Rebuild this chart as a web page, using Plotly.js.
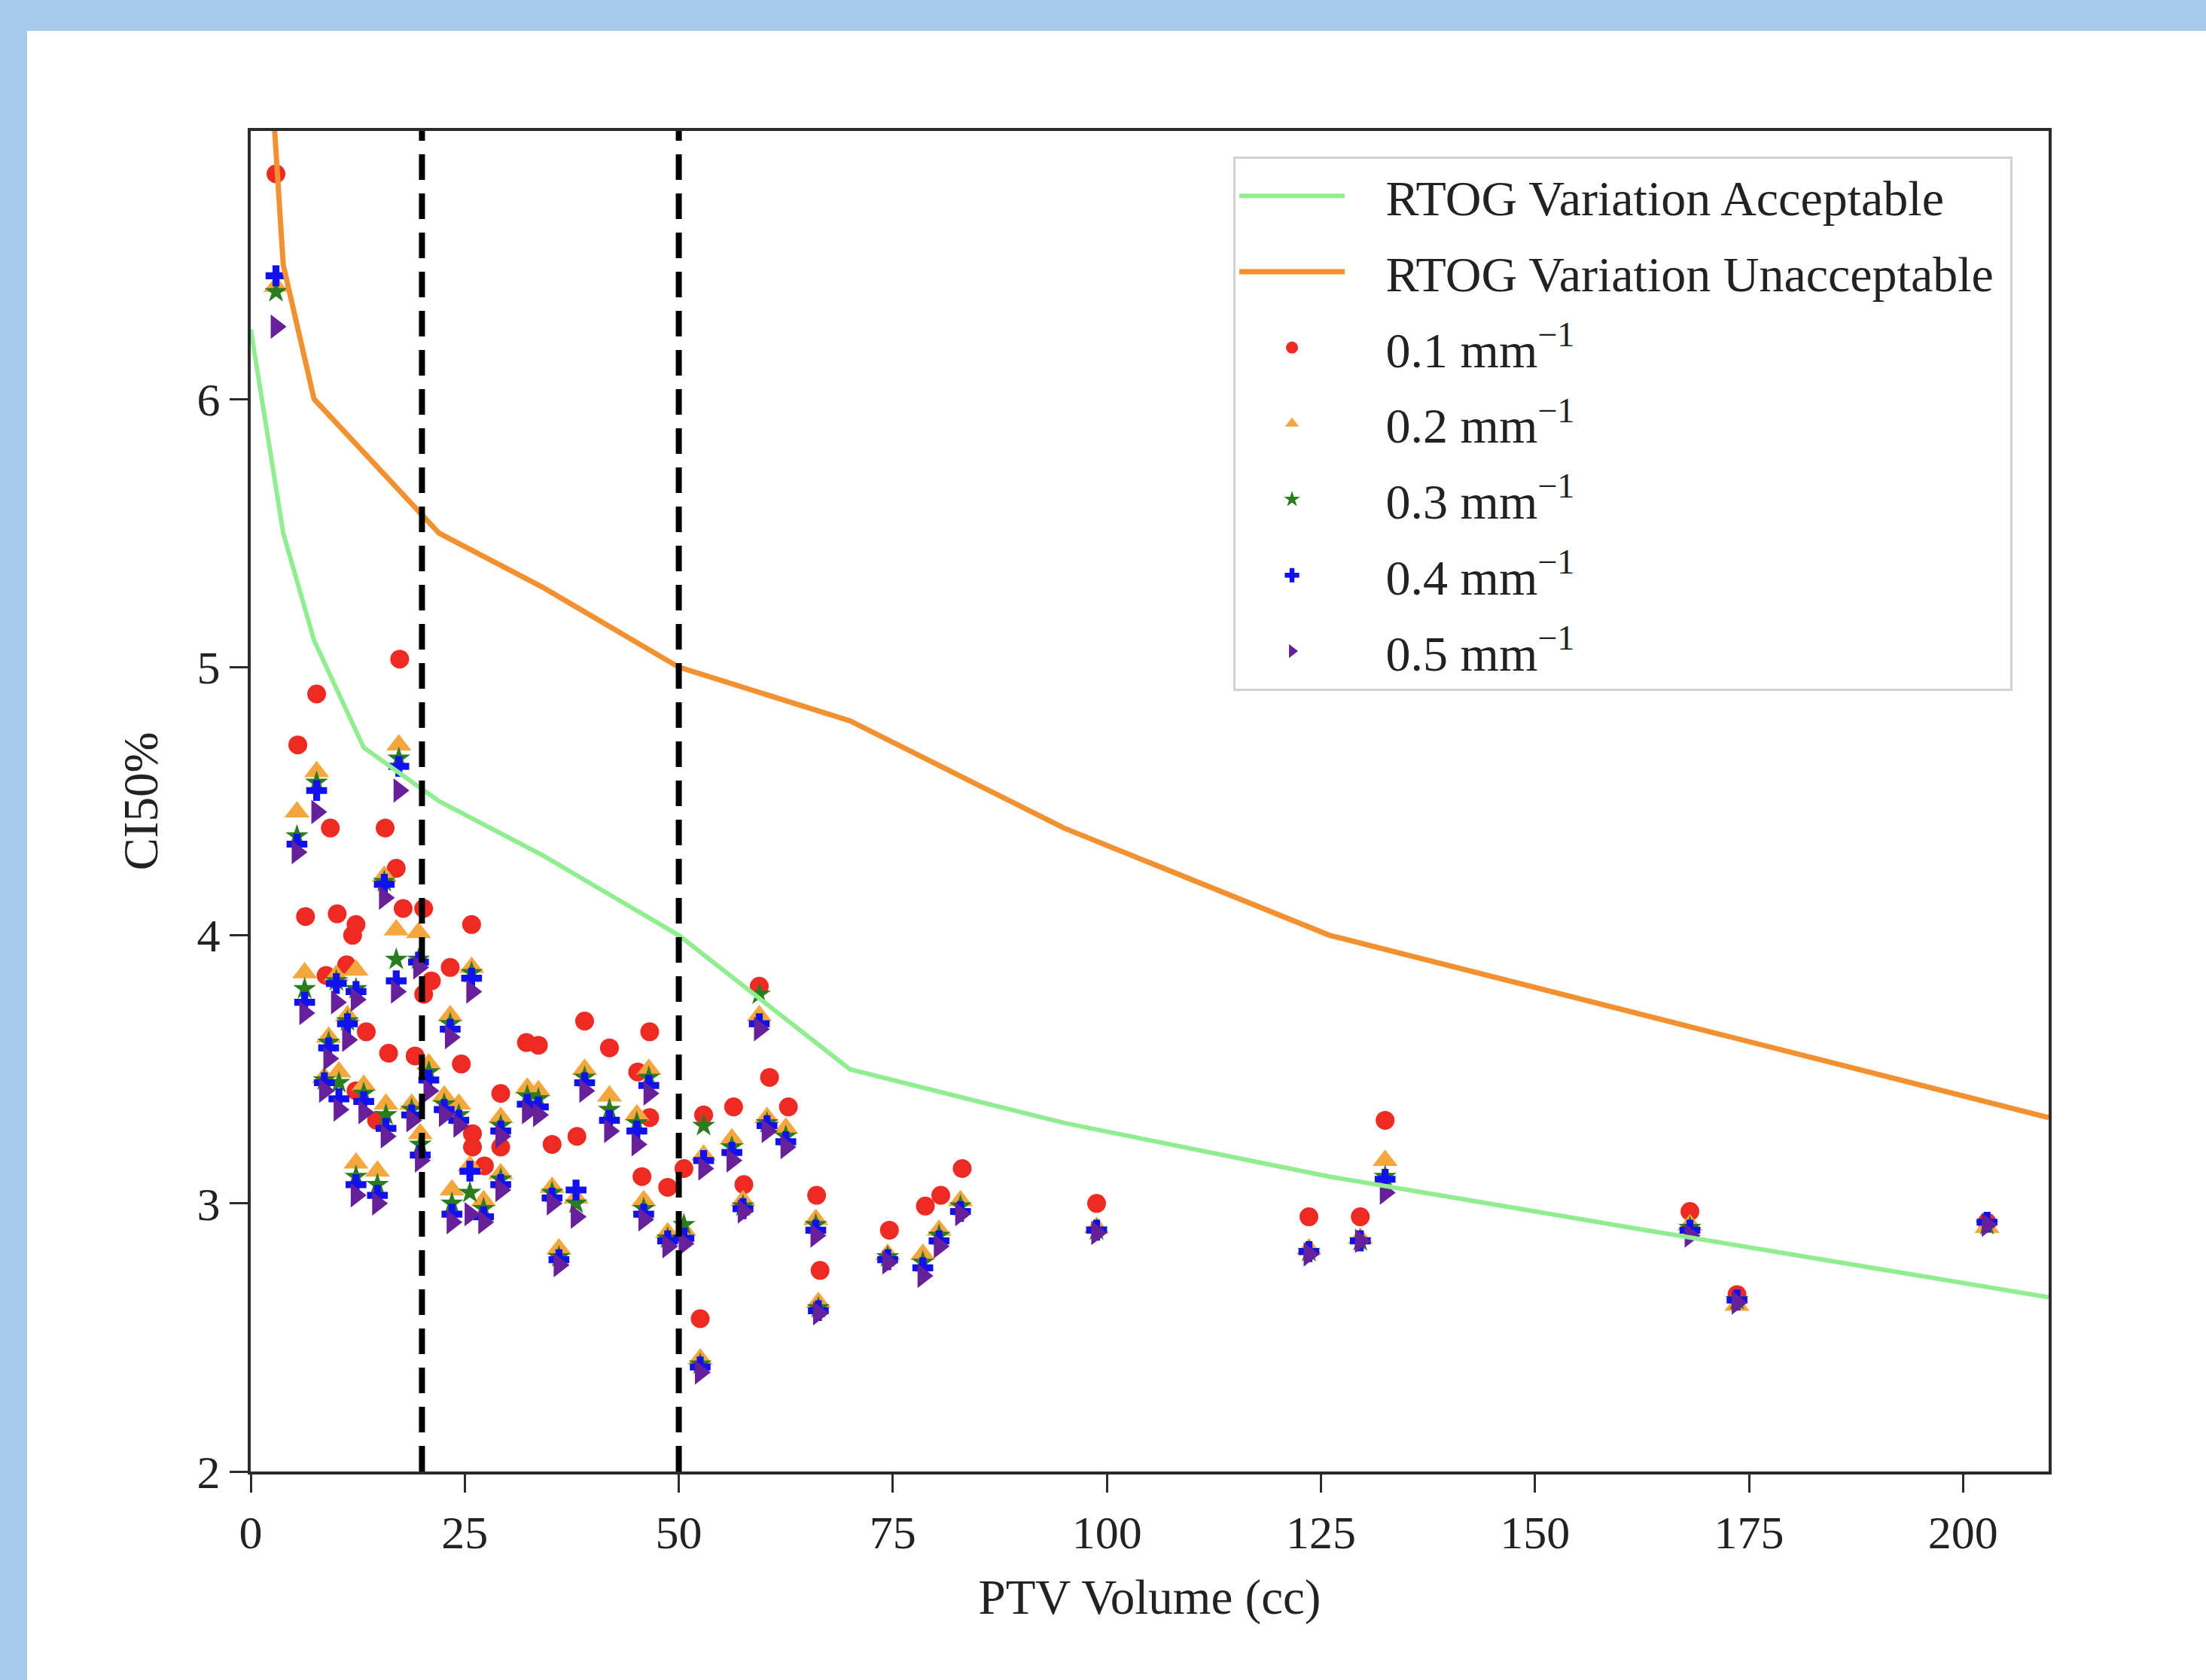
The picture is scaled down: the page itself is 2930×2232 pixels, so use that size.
<!DOCTYPE html>
<html>
<head>
<meta charset="utf-8">
<script src="https://cdn.plot.ly/plotly-3.0.1.min.js"></script>
<style>
  html, body { margin: 0; padding: 0; width: 2930px; height: 2232px; background: #a7c9eb; overflow: hidden; }
  #chart { position: absolute; left: 36px; top: 41px; width: 2894px; height: 2191px; background: #ffffff; }
</style>
</head>
<body>
<div id="chart"></div>
<script>
// RTOG 0915 reference curves
const rtogVolume       = [0, 1.8, 3.8, 7.4, 13.2, 22.0, 34.0, 50.0, 70.0, 95.0, 126.0, 163.0, 210];
const rtogAcceptable   = [6.26, 5.9, 5.5, 5.1, 4.7, 4.5, 4.3, 4.0, 3.5, 3.3, 3.1, 2.9, 2.65];
const rtogUnacceptable = [8.4, 7.5, 6.5, 6.0, 5.8, 5.5, 5.3, 5.0, 4.8, 4.4, 4.0, 3.7, 3.32];

// Volume thresholds (dashed lines)
const thresholds = [20, 50];

// 0.1 mm^-1 series
const volume01 = [2.95, 5.5, 7.7, 9.3, 6.4, 10.1, 12.3, 11.9, 8.8, 11.2, 13.5, 15.7, 17.0, 17.4, 17.8, 20.2, 16.1, 19.2, 20.2, 21.1,
                  23.3, 25.8, 24.6, 25.9, 25.9, 27.3, 29.2, 29.2, 32.2, 33.6, 35.2, 38.1, 39.0, 41.9, 45.2, 46.6, 46.6, 45.7, 48.7, 50.6,
                  52.9, 52.5, 56.4, 57.6, 59.4, 60.6, 62.8, 66.1, 66.5, 74.6, 78.8, 80.6, 83.1, 98.8, 123.6, 129.6, 132.5, 168.1, 173.6, 202.8,
                  12.3, 14.7];
const ci01 = [6.84, 4.71, 4.90, 4.40, 4.07, 4.08, 4.04, 4.00, 3.85, 3.89, 3.64, 4.40, 4.25, 5.03, 4.10, 4.10, 3.56, 3.55, 3.78, 3.83,
              3.88, 4.04, 3.52, 3.26, 3.21, 3.14, 3.41, 3.21, 3.60, 3.59, 3.22, 3.25, 3.68, 3.58, 3.49, 3.64, 3.32, 3.10, 3.06, 3.13,
              3.33, 2.57, 3.36, 3.07, 3.81, 3.47, 3.36, 3.03, 2.75, 2.90, 2.99, 3.03, 3.13, 3.00, 2.95, 2.95, 3.31, 2.97, 2.66, 2.93,
              3.42, 3.31];

// 0.2 - 0.5 mm^-1 series
const volume = [2.95, 5.4, 7.7, 17.3, 15.6, 6.3, 10.0, 12.3, 17.0, 19.6, 25.8, 11.3, 23.3, 9.1, 10.3, 8.6, 13.2, 15.8, 18.8, 20.8,
                19.8, 22.6, 24.3, 29.2, 32.3, 33.6, 39.0, 41.9, 45.1, 46.5, 12.3, 14.8, 23.5, 25.6, 27.2, 29.2, 35.2, 38.0, 36.0, 45.9,
                48.7, 50.6, 52.9, 52.5, 56.2, 57.5, 59.4, 60.3, 62.5, 66.0, 66.3, 74.4, 78.5, 80.4, 82.9, 98.8, 123.6, 129.6, 132.5, 168.1,
                173.6, 202.8];
const ci02 = [6.42, 4.46, 4.61, 4.71, 4.22, 3.86, 3.85, 3.87, 4.02, 4.01, 3.88, 3.70, 3.70, 3.62, 3.49, 3.47, 3.44, 3.37, 3.37, 3.52,
              3.26, 3.40, 3.37, 3.32, 3.43, 3.42, 3.50, 3.40, 3.33, 3.50, 3.15, 3.12, 3.05, 3.14, 3.01, 3.11, 3.06, 3.02, 2.83, 3.01,
              2.89, 2.90, 3.18, 2.42, 3.24, 3.01, 3.70, 3.32, 3.28, 2.94, 2.63, 2.81, 2.81, 2.90, 3.01, 2.91, 2.83, 2.87, 3.16, 2.92,
              2.62, 2.91];
const ci03 = [6.40, 4.37, 4.57, 4.66, 4.20, 3.80, 3.83, 3.80, 3.91, 3.91, 3.86, 3.68, 3.67, 3.60, 3.45, 3.46, 3.41, 3.33, 3.35, 3.49,
              3.22, 3.37, 3.33, 3.29, 3.40, 3.39, 3.47, 3.35, 3.30, 3.47, 3.10, 3.07, 3.00, 3.04, 2.98, 3.09, 3.04, 3.00, 2.80, 2.98,
              2.87, 2.92, 3.29, 2.40, 3.21, 2.99, 3.78, 3.30, 3.25, 2.92, 2.61, 2.80, 2.78, 2.88, 2.99, 2.90, 2.82, 2.86, 3.10, 2.91,
              2.64, 2.92];
const ci04 = [6.46, 4.34, 4.54, 4.63, 4.19, 3.75, 3.82, 3.79, 3.83, 3.90, 3.84, 3.67, 3.65, 3.58, 3.39, 3.45, 3.38, 3.28, 3.33, 3.46,
              3.18, 3.35, 3.31, 3.27, 3.37, 3.36, 3.45, 3.31, 3.27, 3.44, 3.07, 3.03, 2.96, 3.12, 2.95, 3.07, 3.02, 3.05, 2.79, 2.96,
              2.86, 2.87, 3.16, 2.39, 3.19, 2.98, 3.67, 3.29, 3.23, 2.90, 2.60, 2.79, 2.76, 2.86, 2.97, 2.90, 2.82, 2.86, 3.09, 2.90,
              2.64, 2.93];
const ci05 = [6.27, 4.31, 4.46, 4.54, 4.14, 3.71, 3.75, 3.76, 3.79, 3.88, 3.79, 3.61, 3.62, 3.54, 3.35, 3.42, 3.34, 3.25, 3.31, 3.42,
              3.16, 3.33, 3.29, 3.25, 3.34, 3.33, 3.42, 3.27, 3.22, 3.41, 3.03, 3.00, 2.93, 2.96, 2.93, 3.05, 3.00, 2.95, 2.77, 2.94,
              2.84, 2.85, 3.13, 2.37, 3.16, 2.97, 3.65, 3.27, 3.21, 2.88, 2.59, 2.78, 2.73, 2.84, 2.96, 2.89, 2.81, 2.86, 3.04, 2.88,
              2.63, 2.92];

const xTicks = [0, 25, 50, 75, 100, 125, 150, 175, 200];
const yTicks = [2, 3, 4, 5, 6];
const lineNames = ['RTOG Variation Acceptable', 'RTOG Variation Unacceptable'];
const seriesNames = ['0.1 mm<sup>−1</sup>', '0.2 mm<sup>−1</sup>', '0.3 mm<sup>−1</sup>', '0.4 mm<sup>−1</sup>', '0.5 mm<sup>−1</sup>'];

const FONT = '"Liberation Serif", "Times New Roman", serif';
const GAP = '\u00A0\u00A0\u00A0';

function scat(x, y, name, color, symbol, size, rank) {
  return {
    type: 'scatter', mode: 'markers', x: x, y: y, name: GAP + name,
    legendgroup: 'g' + rank, legendrank: rank,
    marker: { color: color, symbol: symbol, size: size, line: { width: 0 } },
    cliponaxis: true
  };
}

const traces = [
  scat(volume01, ci01, seriesNames[0], '#ee2a22', 'circle', 25, 3),
  scat(volume, ci02, seriesNames[1], '#f5a63c', 'triangle-up', 29, 4),
  scat(volume, ci03, seriesNames[2], '#2a7d1e', 'star', 23, 5),
  scat(volume, ci04, seriesNames[3], '#1010f0', 'cross', 23, 6),
  scat(volume, ci05, seriesNames[4], '#66209a', 'triangle-right', 28, 7),
  { type: 'scatter', mode: 'lines', x: rtogVolume, y: rtogAcceptable, name: GAP + lineNames[0],
    legendgroup: 'g1', legendrank: 1, line: { color: '#90ee90', width: 6 } },
  { type: 'scatter', mode: 'lines', x: rtogVolume, y: rtogUnacceptable, name: GAP + lineNames[1] + '\u00A0',
    legendgroup: 'g2', legendrank: 2, line: { color: '#f39130', width: 7 } }
];

const shapes = thresholds.map(v => ({
  type: 'line', xref: 'x', yref: 'paper', x0: v, x1: v, y0: 0, y1: 1, layer: 'above',
  line: { color: '#000000', width: 8, dash: '34px,18px' }
}));

const layout = {
  width: 2894, height: 2191,
  margin: { l: 297, r: 209, t: 133, b: 277, pad: 0 },
  paper_bgcolor: '#ffffff', plot_bgcolor: '#ffffff',
  font: { family: FONT, color: '#222222', size: 62 },
  showlegend: true,
  legend: {
    x: 0.5465, y: 0.981, xanchor: 'left', yanchor: 'top',
    bgcolor: '#ffffff', bordercolor: '#d2d2d2', borderwidth: 3,
    font: { family: FONT, size: 66, color: '#222222' },
    traceorder: 'grouped', tracegroupgap: 12, itemwidth: 140, valign: 'middle'
  },
  xaxis: {
    range: [0, 210], tickvals: xTicks, ticktext: xTicks.map(String),
    showgrid: false, zeroline: false,
    showline: true, linecolor: '#2b2b2b', linewidth: 4, mirror: true,
    ticks: 'outside', ticklen: 24, tickwidth: 3, tickcolor: '#2b2b2b',
    tickfont: { family: FONT, size: 62, color: '#222222' },
    title: { text: 'PTV Volume (cc)', font: { family: FONT, size: 65, color: '#222222' }, standoff: 30 }
  },
  yaxis: {
    range: [2, 7], tickvals: yTicks, ticktext: yTicks.map(String),
    showgrid: false, zeroline: false,
    showline: true, linecolor: '#2b2b2b', linewidth: 4, mirror: true,
    ticks: 'outside', ticklen: 24, tickwidth: 3, tickcolor: '#2b2b2b',
    tickfont: { family: FONT, size: 62, color: '#222222' },
    title: { text: 'CI50%', font: { family: FONT, size: 65, color: '#222222' }, standoff: 32 }
  },
  shapes: shapes
};

Plotly.newPlot('chart', traces, layout, { staticPlot: true, displayModeBar: false });
</script>
</body>
</html>
